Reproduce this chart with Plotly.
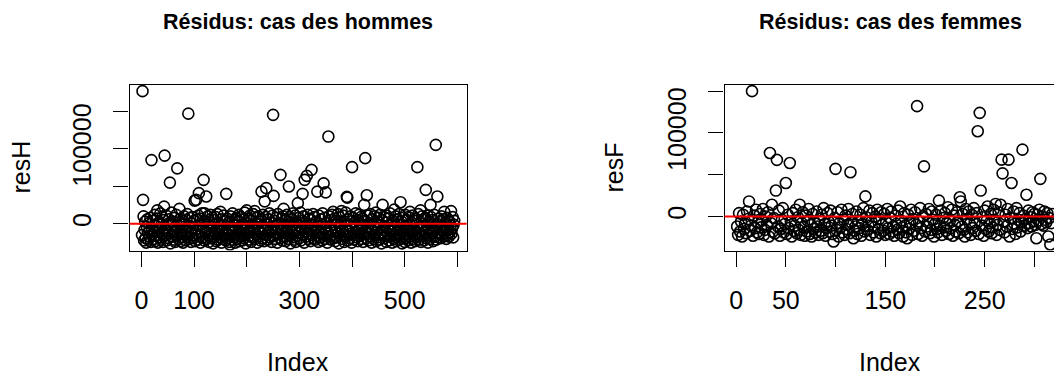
import plotly.graph_objects as go

# ---------------- data ----------------
resH = [
 -15000, 177000, 32000, 10000, -22000, -8000, 3000, -19000, -25000, -4000, 6000, -12000, -21000, 1000, -17000, -9000, 8000, -24000, 85000, -6000,
 -14000, 4000, -20000, -11000, 12000, -23000, -3000, -16000, 7000, 18000, -25000, -10000, 2000, -18000, -7000, 14000, -21000, -1000, 9000, -13000,
 -24000, 5000, 23000, 91000, -15000, -5000, 11000, -22000, -9000, 0, -19000, 6000, -12000, 55000, -26000, -2000, 15000, -17000, -8000, 3000,
 -21000, -11000, 8000, -24000, -4000, 12000, -16000, 74000, -6000, -20000, 2000, 20000, -13000, -23000, 7000, -9000, -18000, 4000, -25000, -1000,
 10000, -14000, -7000, -22000, 5000, -17000, 13000, -10000, 147000, -3000, -20000, 8000, -12000, -24000, 1000, -15000, 9000, -6000, -19000, 4000,
 31000, -23000, -8000, 32000, -13000, 6000, -21000, 11000, 41000, -16000, -2000, -25000, 7000, -10000, 14000, -18000, -5000, 58700, -22000, 14000,
 3000, -12000, 36400, -20000, -7000, 10000, -15000, -24000, 2000, -9000, 12000, -19000, -4000, -13000, 8000, -26000, -1000, 5000, -17000, -11000,
 9000, -23000, -6000, 13000, -21000, -14000, 1000, -8000, -18000, 16000, -3000, -25000, 6000, -10000, -20000, 11000, -15000, -5000, 4000, -22000,
 40000, -12000, 7000, -19000, -9000, 2000, -24000, -27500, 10000, -16000, -6000, -21000, 14000, -11000, -2000, -18000, 5000, -25000, -7000, 8000,
 -14000, -20000, 3000, -10000, 12000, -23000, -4000, -17000, 9000, -13000, -1000, -22000, 6000, -8000, -19000, 15000, -15000, -26000, 1000, 18000,
 -11000, -5000, 7000, -21000, -16000, 11000, -9000, -24000, 4000, -2000, -18000, 13000, -12000, -7000, 17000, -20000, 0, -14000, 8000, -25000,
 -6000, 10000, -17000, -10000, 3000, -22000, 5000, 43000, -13000, -19000, 12000, -4000, -23000, 30000, -8000, 9000, 47600, -15000, -1000, -21000,
 6000, -11000, 14000, -18000, -5000, 2000, -24000, -9000, 11000, 145300, 37300, -16000, 4000, -20000, -12000, 8000, -3000, -25000, 13000, -7000,
 -14000, 1000, -19000, 65300, -10000, 7000, -22000, -6000, 10000, 20000, -17000, -2000, 5000, -23000, -13000, 12000, -8000, -20000, 3000, 49800,
 -15000, 9000, -26000, -4000, 6000, -11000, -18000, 14000, -1000, -21000, -9000, 11000, -24000, 2000, -16000, -6000, 27600, -12000, 8000, -19000,
 -3000, 15000, -22000, -7000, 4000, 40000, -14000, 10000, -25000, 58700, -10000, 1000, -17000, 64000, -5000, 12000, -20000, -13000, 7000, -8000,
 -23000, 5000, 72000, -15000, -2000, 13000, -19000, -11000, 9000, -21000, -6000, 3000, -16000, 43000, -9000, -24000, 11000, -12000, 0, -18000,
 6000, -4000, -22000, 14000, -14000, 54000, -7000, 8000, -20000, 42000, -10000, 2000, -25000, -13000, 116400, 10000, -17000, -3000, 5000, -21000,
 -8000, 12000, -15000, 16000, -19000, -1000, 7000, -23000, -11000, 4000, -6000, -18000, 13000, -12000, -26000, 9000, -5000, -16000, 1000, 17000,
 -20000, -9000, 11000, -14000, -24000, 3000, -7000, 15000, -17000, 36000, 35000, -22000, 6000, -10000, -2000, -19000, 10000, -13000, -25000, 75600,
 -4000, 8000, -15000, -21000, 2000, -11000, 14000, -6000, -18000, 5000, -23000, -8000, 12000, -16000, 0, -12000, 9000, -20000, -3000, 7000,
 -24000, -14000, 25300, 4000, 87600, -9000, -19000, 38200, -5000, 11000, -22000, -13000, 1000, -17000, 13000, -7000, -25000, 6000, -10000, -1000,
 -20000, 10000, -15000, -4000, 15000, -23000, -11000, 3000, -18000, 8000, -6000, -21000, 12000, -14000, -2000, -26000, 5000, 25300, -12000, -8000,
 9000, -19000, -16000, 2000, -24000, 11000, -5000, -13000, 7000, -22000, -9000, 14000, -17000, 0, -10000, -25000, 4000, -7000, -20000, 19000,
 -15000, -3000, 10000, -23000, -12000, 6000, -18000, -1000, 13000, -21000, -8000, 28900, -14000, 3000, -26000, -11000, 8000, -16000, -4000, -24000,
 12000, -19000, -6000, 5000, -13000, -22000, 9000, -9000, -17000, 16000, -2000, -25000, 1000, -11000, 11000, -20000, -7000, 4000, -15000, -23000,
 7000, -10000, -18000, 75600, -5000, 13000, -21000, -14000, 2000, 18000, -24000, -8000, 10000, -16000, -3000, 6000, -22000, -12000, 8000, 45300,
 -19000, -1000, 11000, -25000, -9000, 3000, -15000, -20000, 25300, 9000, -6000, -13000, 5000, -23000, -10000, 12000, -17000, -4000, 105300, -21000,
 0, 36400, -11000, -18000, 7000, -7000, -14000, 4000, -19000, 10000, -3000, -16000, -9000, 6000, 16000, -12000, -5000, 2000, -20000, 8000,
 -15000, -8000, 5000, -17000, 3000, -11000, -2000, 17000, -13000, -6000, 9000, -18000, -1000, 4000,
]

resF = [
 -12000, -22000, 4000, -18000, -6000, -24000, 2000, -15000, -9000, -20000, 6000, -3000, 18000, -17000, -11000, 150000, -23000, 1000, -14000, 8000,
 -19000, -7000, -21000, 3000, -13000, -5000, 9000, -22000, -16000, 0, -10000, 5000, -24000, 76000, -8000, 14000, -18000, -2000, -20000, 31000,
 67700, -12000, 7000, -23000, -15000, -4000, 10000, -19000, -9000, 40000, -21000, 2000, -14000, 64000, -6000, -24000, 4000, -17000, -11000, 8000,
 -20000, -1000, -16000, 14000, -22000, -8000, 5000, -13000, -23000, 1000, -18000, -5000, 9000, -21000, -10000, -24000, 3000, -15000, -7000, -19000,
 6000, -12000, -22000, -3000, -17000, 2000, -20000, 10000, -9000, -23000, -14000, 4000, -6000, -18000, 7000, -11000, -21000, -30000, -2000, 57000,
 -16000, 5000, -24000, -8000, -13000, 8000, -19000, -4000, -22000, 1000, -15000, -10000, 9000, -20000, 53000, -7000, 3000, -26000, -17000, -12000,
 6000, -21000, -5000, -14000, 2000, -23000, -9000, 10000, -18000, 24000, -1000, -16000, -11000, 7000, -22000, -6000, 4000, -19000, -13000, 0,
 -24000, 8000, -15000, -3000, -20000, 5000, -10000, -17000, 3000, -22000, -7000, 9000, -14000, -21000, -2000, 6000, -18000, -12000, -23000, 1000,
 -9000, -16000, 7000, -20000, 12000, -5000, -13000, -24000, 4000, -11000, -19000, -26000, 2000, -15000, -8000, 8000, -22000, -3000, -17000, 5000,
 -10000, 132000, -21000, -6000, 10000, -14000, -23000, 0, 60000, -18000, 3000, -12000, -7000, 9000, -20000, -16000, 6000, -4000, -24000, -9000,
 2000, -15000, -19000, 19000, -11000, 7000, -22000, -2000, -13000, 4000, -17000, -8000, 11000, -21000, -5000, -14000, 8000, -23000, 1000, -10000,
 -18000, 5000, -6000, -20000, 23000, 18000, -12000, 3000, -16000, -24000, 9000, -3000, -19000, 6000, -9000, -22000, 2000, -14000, 10000, -7000,
 -17000, 4000, 102000, -21000, 124000, 31000, -11000, -1000, -23000, 7000, -15000, -5000, 12000, -18000, -8000, 3000, -20000, -13000, 8000, -4000,
 15000, -22000, -10000, 5000, -16000, 14000, 68000, 51600, -6000, -19000, 2000, -12000, 9000, 68000, -24000, -2000, 40000, -15000, 6000, -9000,
 -21000, 10000, -13000, -4000, 4000, -18000, -7000, 80000, 1000, -11000, -3000, 26000, -14000, 7000, -8000, -1000, -12000, 5000, -6000, 3000,
 -10000, -26000, 2000, -5000, 8000, 45000, -9000, 0, -11000, 6000, -4000, -7000, 4000, -24000, -2000, -33500, -8000, 3000,
]

titles = ["Résidus: cas des hommes", "Résidus: cas des femmes"]
ylabels = ["resH", "resF"]
xlabel = "Index"

xtickvalsH = [0, 100, 200, 300, 400, 500, 600]
xticktextH = ["0", "100", "", "300", "", "500", ""]
xtickvalsF = [0, 50, 100, 150, 200, 250, 300]
xticktextF = ["0", "50", "", "150", "", "250", ""]
ytickvals = [0, 50000, 100000, 150000]
yticktext = ["0", "", "100000", ""]

# ---------------- helpers ----------------
W, H = 1054, 375
FONT = "Liberation Sans, Arial, sans-serif"


def rrange(lo, hi):
    d = (hi - lo) * 0.04
    return [lo - d, hi + d]


xH = list(range(1, len(resH) + 1))
xF = list(range(1, len(resF) + 1))

rxH = rrange(1, len(resH))
ryH = rrange(min(resH), max(resH))
rxF_full = rrange(1, len(resF))
ryF = rrange(min(resF), max(resF))
# right panel is cropped by the window edge
visible_frac = 0.968
rxF = [rxF_full[0], rxF_full[0] + visible_frac * (rxF_full[1] - rxF_full[0])]

marker_style = dict(symbol="circle-open", size=11, color="black",
                    line=dict(width=1.6, color="black"))

fig = go.Figure()
fig.add_trace(go.Scatter(x=xH, y=resH, mode="markers", xaxis="x", yaxis="y",
                         marker=marker_style, showlegend=False, hoverinfo="skip"))
fig.add_trace(go.Scatter(x=xF, y=resF, mode="markers", xaxis="x2", yaxis="y2",
                         marker=marker_style, showlegend=False, hoverinfo="skip"))

ydom = [(H - 250.6) / H, (H - 85) / H]
axis_common = dict(showgrid=False, zeroline=False, showline=True, linecolor="black",
                   linewidth=1.3, ticks="outside", ticklen=15, tickwidth=1.3,
                   tickcolor="black", tickfont=dict(family=FONT, size=25, color="black"),
                   ticklabelstandoff=12)

fig.update_layout(
    width=W, height=H, margin=dict(l=0, r=0, t=0, b=0),
    paper_bgcolor="white", plot_bgcolor="white",
    xaxis=dict(domain=[129.5 / W, 466.7 / W], range=rxH, tickvals=xtickvalsH,
               ticktext=xticktextH, mirror=True, anchor="y", **axis_common),
    yaxis=dict(domain=ydom, range=ryH, tickvals=ytickvals, ticktext=yticktext,
               tickangle=-90, mirror=True, anchor="x", **axis_common),
    xaxis2=dict(domain=[724.5 / W, 1.0], range=rxF, tickvals=xtickvalsF,
                ticktext=xticktextF, mirror=True, anchor="y2", **axis_common),
    yaxis2=dict(domain=ydom, range=ryF, tickvals=ytickvals, ticktext=yticktext,
                tickangle=-90, mirror=False, anchor="x2", **axis_common),
)

# red horizontal line at 0
for xa, ya in (("x", "y"), ("x2", "y2")):
    fig.add_shape(type="line", xref=f"{xa} domain", yref=ya, x0=0, x1=1, y0=0, y1=0,
                  line=dict(color="red", width=2), layer="above")

# titles and axis labels
title_x = [298.3, 890.0]
ylab_x = [20.0, 613.0]
box_cx = [(129.5 + 466.7) / 2, 890.0]
for i in range(2):
    fig.add_annotation(text=f"<b>{titles[i]}</b>", xref="paper", yref="paper",
                       x=title_x[i] / W, y=1 - 22 / H, xanchor="center", yanchor="middle",
                       showarrow=False, font=dict(family=FONT, size=21.5, color="black"))
    fig.add_annotation(text=xlabel, xref="paper", yref="paper",
                       x=box_cx[i] / W, y=1 - 362 / H, xanchor="center", yanchor="middle",
                       showarrow=False, font=dict(family=FONT, size=25, color="black"))
    fig.add_annotation(text=ylabels[i], xref="paper", yref="paper",
                       x=ylab_x[i] / W, y=1 - 167.5 / H, xanchor="center", yanchor="middle",
                       textangle=-90, showarrow=False,
                       font=dict(family=FONT, size=25, color="black"))

fig.write_html("out.html")
